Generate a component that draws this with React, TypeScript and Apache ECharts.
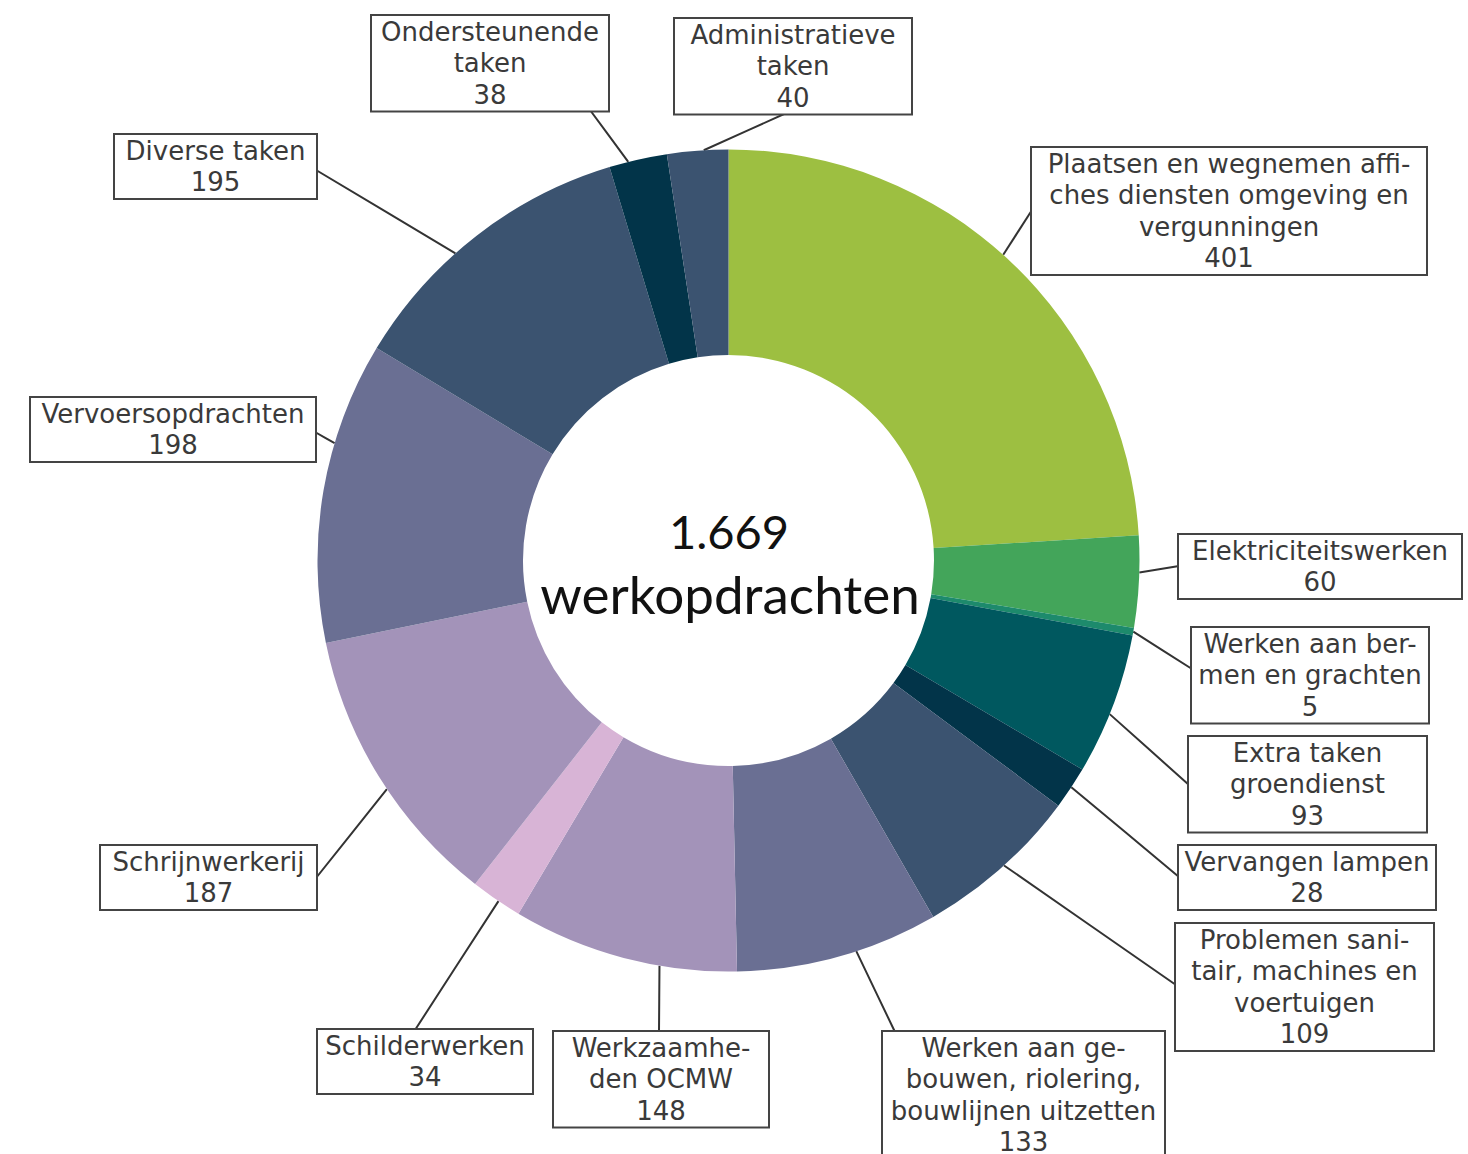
import React, { useEffect, useRef } from "react";
import * as echarts from "echarts";

const CATEGORIES = [
  "Plaatsen en wegnemen affiches diensten omgeving en vergunningen",
  "Elektriciteitswerken",
  "Werken aan bermen en grachten",
  "Extra taken groendienst",
  "Vervangen lampen",
  "Problemen sanitair, machines en voertuigen",
  "Werken aan gebouwen, riolering, bouwlijnen uitzetten",
  "Werkzaamheden OCMW",
  "Schilderwerken",
  "Schrijnwerkerij",
  "Vervoersopdrachten",
  "Diverse taken",
  "Ondersteunende taken",
  "Administratieve taken",
];

const VALUES = [401, 60, 5, 93, 28, 109, 133, 148, 34, 187, 198, 195, 38, 40];

const LABEL_TEXT = [
  "Plaatsen en wegnemen affi-\nches diensten omgeving en\nvergunningen",
  "Elektriciteitswerken",
  "Werken aan ber-\nmen en grachten",
  "Extra taken\ngroendienst",
  "Vervangen lampen",
  "Problemen sani-\ntair, machines en\nvoertuigen",
  "Werken aan ge-\nbouwen, riolering,\nbouwlijnen uitzetten",
  "Werkzaamhe-\nden OCMW",
  "Schilderwerken",
  "Schrijnwerkerij",
  "Vervoersopdrachten",
  "Diverse taken",
  "Ondersteunende\ntaken",
  "Administratieve\ntaken",
];

const TOTAL_TEXT = "1.669";
const CENTER_SUBTITLE = "werkopdrachten";

const COLORS = [
  "#9dbf41",
  "#43a55a",
  "#1d8a6c",
  "#00585f",
  "#023449",
  "#3b5370",
  "#6a6f93",
  "#a393b9",
  "#d8b4d6",
  "#a393b9",
  "#6a6f93",
  "#3b5370",
  "#023449",
  "#3b5370",
];

// label box layout: center x, top y, width, attach point on box, anchor fraction within slice
const BOX_CX = [1229, 1320, 1310, 1307.5, 1307, 1304.5, 1023.5, 661, 425, 208.5, 173, 215.5, 490, 793];
const BOX_TOP = [148, 535, 628, 737, 846, 924, 1032, 1032, 1030, 846, 398, 135, 16, 19];
const BOX_W = [394, 282, 236, 237, 256, 257, 281, 214, 214, 215, 284, 201, 236, 236];
const ATTACH = [
  [1032, 210], [1179, 566], [1192, 669], [1189, 785], [1179, 877], [1176, 985],
  [895, 1032], [659, 1032], [415, 1030], [316, 878], [315, 432], [316, 170],
  [590, 110], [793, 110],
];
const ANCHOR_T = [0.485, 0.4, 0.5, 0.57, 0.48, 0.48, 0.41, 0.34, 0.45, 0.45, 0.66, 0.41, 0.33, 0.6];

export default function App() {
  const ref = useRef<HTMLDivElement>(null);

  useEffect(() => {
    document.body.style.margin = "0";
    if (!ref.current) return;
    const chart = echarts.init(ref.current, undefined, { renderer: "svg" });

    const data = VALUES.map((v, i) => ({
      name: CATEGORIES[i],
      value: v,
      itemStyle: { color: COLORS[i] },
      label: { width: BOX_W[i] },
    }));

    chart.setOption({
      animation: false,
      backgroundColor: "#ffffff",
      graphic: [
        {
          type: "text",
          z: 100,
          x: 729,
          y: 531,
          style: {
            text: TOTAL_TEXT,
            fontFamily: "Lato",
            fontSize: 47,
            fill: "#111111",
            textAlign: "center",
            textVerticalAlign: "middle",
          },
        },
        {
          type: "text",
          z: 100,
          x: 730,
          y: 593,
          style: {
            text: CENTER_SUBTITLE,
            fontFamily: "Lato",
            fontSize: 53,
            fill: "#111111",
            textAlign: "center",
            textVerticalAlign: "middle",
          },
        },
      ],
      series: [
        {
          type: "pie",
          center: [728.5, 560.5],
          radius: [205.5, 411],
          startAngle: 90,
          clockwise: true,
          avoidLabelOverlap: false,
          emphasis: { disabled: true },
          data,
          label: {
            show: true,
            position: "outside",
            formatter: (p: any) => `${LABEL_TEXT[p.dataIndex]}\n${p.value}`,
            fontFamily: "DejaVu Sans",
            fontSize: 26,
            lineHeight: 31.5,
            color: "#3a3a3a",
            align: "center",
            backgroundColor: "#ffffff",
            borderColor: "#444444",
            borderWidth: 2,
            padding: 0,
          },
          labelLine: {
            show: true,
            length: 10,
            length2: 10,
            smooth: false,
            lineStyle: { color: "#333333", width: 2 },
          },
          labelLayout: (params: any) => {
            const i = params.dataIndex;
            let anchor: number[] = params.labelLinePoints ? params.labelLinePoints[0] : ATTACH[i];
            try {
              const lay = (chart as any).getModel().getSeriesByIndex(0).getData().getItemLayout(i);
              if (lay) {
                const a = lay.startAngle + ANCHOR_T[i] * (lay.endAngle - lay.startAngle);
                anchor = [lay.cx + lay.r * Math.cos(a), lay.cy + lay.r * Math.sin(a)];
              }
            } catch (e) {
              /* keep default anchor */
            }
            const end = ATTACH[i];
            const mid = [(anchor[0] + end[0]) / 2, (anchor[1] + end[1]) / 2];
            return {
              x: BOX_CX[i],
              y: BOX_TOP[i],
              align: "center",
              verticalAlign: "top",
              labelLinePoints: [anchor, mid, end],
            };
          },
        },
      ],
    });

    return () => chart.dispose();
  }, []);

  return <div ref={ref} style={{ width: 1468, height: 1154 }} />;
}
